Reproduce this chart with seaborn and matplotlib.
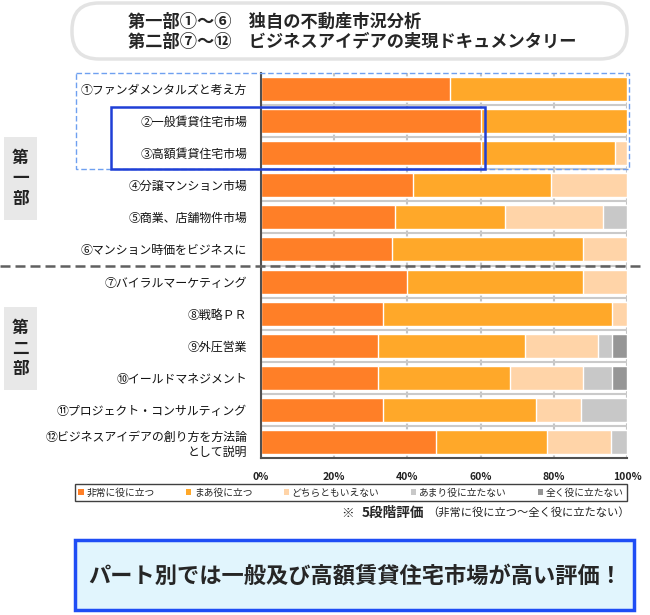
import numpy as np
import matplotlib
matplotlib.use("Agg")
import matplotlib.pyplot as plt
import matplotlib.transforms as mtransforms
from matplotlib.patches import Rectangle, FancyBboxPatch, Patch
import seaborn as sns

# === Data (percent of respondents, 5-level rating) ===
categories = [
    "①ファンダメンタルズと考え方",
    "②一般賃貸住宅市場",
    "③高額賃貸住宅市場",
    "④分譲マンション市場",
    "⑤商業、店舗物件市場",
    "⑥マンション時価をビジネスに",
    "⑦バイラルマーケティング",
    "⑧戦略ＰＲ",
    "⑨外圧営業",
    "⑩イールドマネジメント",
    "⑪プロジェクト・コンサルティング",
    "⑫ビジネスアイデアの創り方を方法論\nとして説明",
]
very_useful = [51.7, 60.0, 60.0, 41.4, 36.7, 35.8, 40.0, 33.3, 32.0, 32.0, 33.3, 47.8]
fairly_useful = [48.3, 40.0, 36.7, 37.9, 30.0, 52.3, 48.0, 62.5, 40.0, 36.0, 41.7, 30.4]
neutral = [0.0, 0.0, 3.3, 20.7, 26.7, 11.9, 12.0, 4.2, 20.0, 20.0, 12.5, 17.4]
not_very = [0.0, 0.0, 0.0, 0.0, 6.6, 0.0, 0.0, 0.0, 4.0, 8.0, 12.5, 4.4]
not_at_all = [0.0, 0.0, 0.0, 0.0, 0.0, 0.0, 0.0, 0.0, 4.0, 4.0, 0.0, 0.0]

series_labels = ["非常に役に立つ", "まあ役に立つ", "どちらともいえない", "あまり役に立たない", "全く役に立たない"]
series_colors = ["#FF7F27", "#FFA829", "#FFD4A8", "#C8C8C8", "#969696"]
x_ticks = [0, 20, 40, 60, 80, 100]
x_tick_labels = ["0%", "20%", "40%", "60%", "80%", "100%"]

title_lines = ["第一部①～⑥　独自の不動産市況分析", "第二部⑦～⑫　ビジネスアイデアの実現ドキュメンタリー"]
summary = "パート別では一般及び高額賃貸住宅市場が高い評価！"

sns.set_style("white")
plt.rcParams["font.family"] = ["Noto Sans CJK JP", "DejaVu Sans"]

fig = plt.figure(figsize=(6.5, 6.15), dpi=100)
ax = fig.add_axes([261 / 650, 1 - 458 / 615, 366 / 650, 385 / 615])

# stacked bars: draw cumulative totals from the right-most segment down
stack = np.array([very_useful, fairly_useful, neutral, not_very, not_at_all])
cum = np.cumsum(stack, axis=0)
for i in range(len(series_labels) - 1, -1, -1):
    sns.barplot(x=cum[i], y=categories, orient="h", color=series_colors[i],
                saturation=1, width=0.75, ax=ax, zorder=2)

ax.set_xlim(0, 100)
ax.set_ylim(len(categories) - 0.5, -0.5)
ax.set_xticks(x_ticks)
ax.set_xticklabels(x_tick_labels, fontsize=7.5, fontweight="bold", color="#222222")
ax.tick_params(axis="x", length=0, pad=10)
ax.tick_params(axis="y", which="major", length=0, pad=10, labelsize=8.6, labelcolor="#111111")
ax.set_yticks(np.arange(0.5, len(categories) - 1, 1), minor=True)
ax.tick_params(axis="y", which="minor", direction="in", length=3, width=1.5, color="#505050")
for lab in ax.get_yticklabels():
    lab.set_multialignment("right")
ax.set_xlabel("")
ax.set_ylabel("")
ax.set_axisbelow(True)
ax.xaxis.grid(True, color="#C4C4C4", lw=1.5)
ax.yaxis.grid(True, which="minor", color="#CACACA", lw=1.5)
for s in ["top", "right"]:
    ax.spines[s].set_visible(False)
for s in ["left", "bottom"]:
    ax.spines[s].set_color("#505050")
    ax.spines[s].set_linewidth(1.5)

# legend
handles = [Patch(facecolor=c, edgecolor="none", label=l) for c, l in zip(series_colors, series_labels)]
leg = ax.legend(handles=handles, ncol=5, mode="expand", loc="center",
                bbox_to_anchor=(75 / 650, 1 - 502 / 615, 552 / 650, 19 / 615),
                bbox_transform=fig.transFigure, fontsize=7, frameon=True, fancybox=False,
                edgecolor="#404040", framealpha=1, borderaxespad=0, borderpad=0.35,
                handlelength=0.55, handleheight=0.55, handletextpad=0.25, columnspacing=0.5)
leg.get_frame().set_linewidth(1)

# decoration layer in pixel coordinates
deco = fig.add_axes([0, 0, 1, 1], zorder=3)
deco.set_xlim(0, 650)
deco.set_ylim(615, 0)
deco.axis("off")

deco.add_patch(FancyBboxPatch((72, 3), 555, 56, boxstyle="round,pad=0,rounding_size=27",
                              facecolor="white", edgecolor="#E3E3E3", lw=2.5))
deco.text(128, 22, title_lines[0], fontsize=12.4, fontweight="bold", va="center", ha="left")
deco.text(128, 42, title_lines[1], fontsize=12.4, fontweight="bold", va="center", ha="left")

# part labels
for y0, y1, txt in [(137, 220, "第\n一\n部"), (307, 390, "第\n二\n部")]:
    deco.add_patch(Rectangle((4, y0), 33, y1 - y0, facecolor="#E8E8E8", edgecolor="none"))
    deco.text(20.5, (y0 + y1) / 2, txt, fontsize=12, fontweight="bold", ha="center",
              va="center", linespacing=1.15, color="#222222")

# separator and highlight boxes aligned with the category rows
blend = mtransforms.blended_transform_factory(deco.transData, ax.transData)
deco.plot([0, 642], [5.5, 5.5], transform=blend, color="#606060", lw=1.8,
          dashes=(4, 2), clip_on=False)
deco.add_patch(Rectangle((76, -0.5), 553, 3.0, transform=blend, fill=False,
                         edgecolor="#6FA0F0", lw=1, linestyle=(0, (4, 2))))
deco.add_patch(Rectangle((111, 0.56), 374, 1.94, transform=blend, fill=False,
                         edgecolor="#1F3FD6", lw=1.8))

# note under legend
deco.text(341, 513, "※", fontsize=9, fontweight="bold", va="center", ha="left")
deco.text(362, 513, "5段階評価", fontsize=9.8, fontweight="bold", va="center", ha="left")
deco.text(427, 513, "（非常に役に立つ～全く役に立たない）", fontsize=8.1, va="center",
          ha="left", color="#222222")

# summary box
deco.add_patch(Rectangle((75, 540), 559, 70, facecolor="#E1F5FD", edgecolor="#1E4DF5", lw=2.5))
deco.text(355, 576, summary, fontsize=16, fontweight="bold", ha="center", va="center")

fig.savefig("out.png", dpi=100)
plt.close(fig)
